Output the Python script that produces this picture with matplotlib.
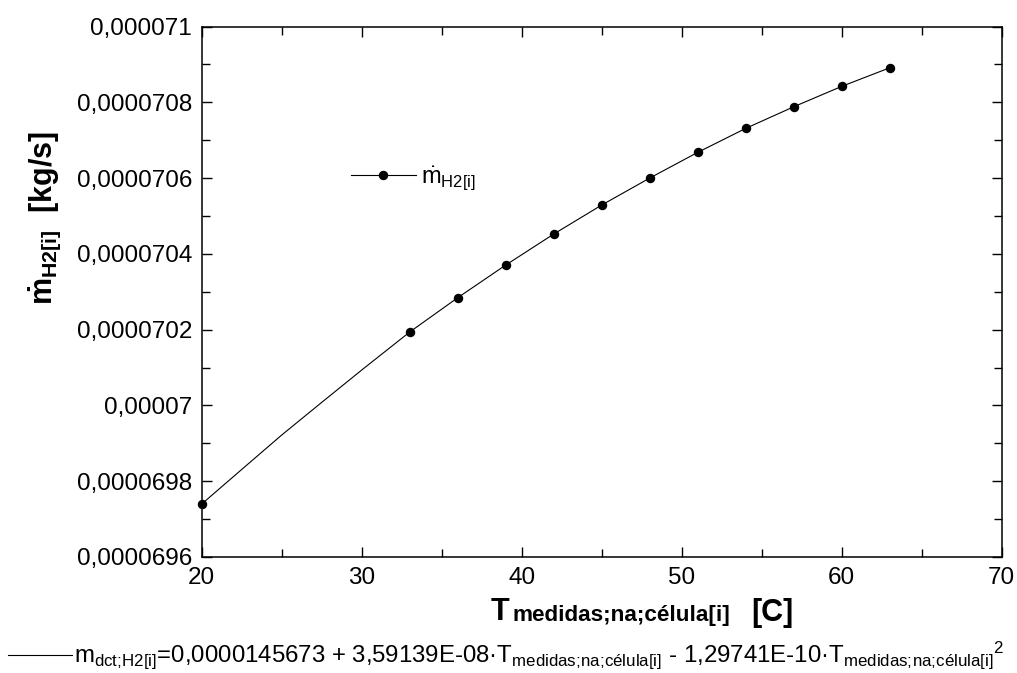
import matplotlib
matplotlib.use("Agg")
import matplotlib.pyplot as plt
from matplotlib.ticker import MultipleLocator, FuncFormatter
from matplotlib.lines import Line2D

plt.rcParams["font.family"] = ["Liberation Sans", "DejaVu Sans"]
plt.rcParams["mathtext.fontset"] = "custom"
plt.rcParams["mathtext.rm"] = "Liberation Sans"
plt.rcParams["mathtext.it"] = "Liberation Sans:italic"
plt.rcParams["mathtext.bf"] = "Liberation Sans:bold"
plt.rcParams["mathtext.default"] = "regular"

# Measured hydrogen mass flow per cell temperature
T_meas = [20, 33, 36, 39, 42, 45, 48, 51, 54, 57, 60, 63]
m_meas = [6.97398e-5, 7.01937e-5, 7.02842e-5, 7.03704e-5, 7.04522e-5,
          7.05288e-5, 7.06000e-5, 7.06678e-5, 7.07311e-5, 7.07881e-5,
          7.08420e-5, 7.08910e-5]

# Smooth curve through the measurements (extra nodes in the 20-33 gap)
T_curve = [20, 22.5, 25, 27.5, 30, 33, 36, 39, 42, 45, 48, 51, 54, 57, 60, 63]
m_curve = [6.97398e-5, 6.98310e-5, 6.99219e-5, 7.00080e-5, 7.00934e-5,
           7.01937e-5, 7.02842e-5, 7.03704e-5, 7.04522e-5, 7.05288e-5,
           7.06000e-5, 7.06678e-5, 7.07311e-5, 7.07881e-5, 7.08420e-5,
           7.08910e-5]

x_limits = (20, 70)
y_limits = (6.96e-5, 7.10e-5)

W, H = 1017, 673


def fx(px):
    return px / W


def fy(py):
    return 1 - py / H


fig = plt.figure(figsize=(W / 100, H / 100), dpi=100)
ax = fig.add_axes([fx(201.7), fy(557), 800 / W, 530.5 / H])

ax.plot(T_curve, m_curve, color="black", lw=0.8, zorder=2)
ax.plot(T_meas, m_meas, linestyle="none", marker="o", ms=5.8,
        color="black", zorder=3, clip_on=False)

ax.set_xlim(*x_limits)
ax.set_ylim(*y_limits)

ax.xaxis.set_major_locator(MultipleLocator(10))
ax.xaxis.set_minor_locator(MultipleLocator(5))
ax.yaxis.set_major_locator(MultipleLocator(2e-7))
ax.yaxis.set_minor_locator(MultipleLocator(1e-7))


def comma_fmt(v, pos):
    s = f"{v:.7f}".rstrip("0").rstrip(".")
    return s.replace(".", ",")


ax.yaxis.set_major_formatter(FuncFormatter(comma_fmt))

for side in ax.spines.values():
    side.set_linewidth(1.1)
    side.set_color("black")

ax.tick_params(which="both", direction="in", top=True, right=True,
               width=1.0, color="black")
ax.tick_params(which="major", length=7, labelsize=17.5, pad=7)
ax.tick_params(which="minor", length=6)

# Legend for the data series
handle = Line2D([], [], color="black", lw=0.8, marker="o", ms=5.8)
ax.legend([handle], [r"$\dot{m}_{H2[i]}$"], loc="center left",
          bbox_to_anchor=(fx(351), fy(178)),
          bbox_transform=fig.transFigure, frameon=False,
          fontsize=17, handlelength=2.75, handletextpad=0.2,
          borderpad=0, borderaxespad=0)

# y-axis title
fig.text(fx(45), fy(218), r"$\dot{\mathbf{m}}_{\mathbf{H2[i]}}$  [kg/s]",
         rotation=90, ha="center", va="center", fontsize=22,
         fontweight="bold")

# x-axis title, built from base letter, subscript and unit
fig.text(fx(491), fy(620), "T", ha="left", va="baseline",
         fontsize=22, fontweight="bold")
fig.text(fx(512), fy(621.5), "medidas;na;célula[i]", ha="left",
         va="baseline", fontsize=16.2, fontweight="bold")
fig.text(fx(751), fy(621), "[C]", ha="left", va="baseline",
         fontsize=22, fontweight="bold")

# Fitted-curve equation line below the plot
fig.add_artist(Line2D([fx(8), fx(72)], [fy(655), fy(655)],
                      color="black", lw=0.8, transform=fig.transFigure))
sub = r"medidas;\!na;\!célula[i]"
eq = (r"m$_{dct;\!H2[i]}$=0,0000145673 + 3,59139E-08·T$_{" + sub + r"}$"
      r" - 1,29741E-10·T$_{" + sub + r"}{}^{2}$")
fig.text(fx(74), fy(655), eq, ha="left", va="center", fontsize=17.3)

fig.savefig("out.png", dpi=100)
